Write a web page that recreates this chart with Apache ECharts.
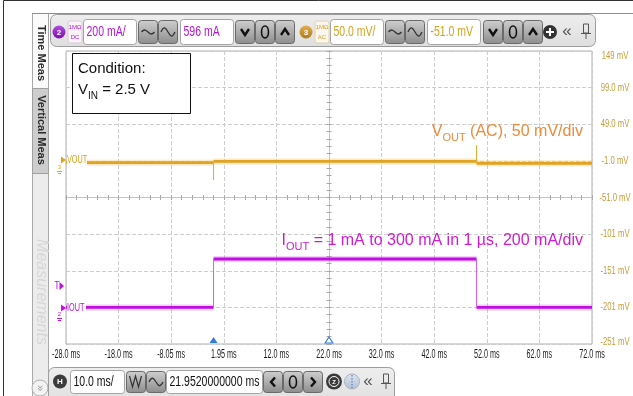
<!DOCTYPE html>
<html>
<head>
<meta charset="utf-8">
<script src="https://cdn.jsdelivr.net/npm/echarts@6/dist/echarts.min.js"></script>
<style>
  html, body { margin: 0; padding: 0; background: #fff; overflow: hidden; }
  #scope { width: 633px; height: 396px; }
</style>
</head>
<body>
<div id="scope"></div>
<script>
// Horizontal: 10 ms/div, screen centre at 21.952 ms
const timeLabels = ['-28.0 ms', '-18.0 ms', '-8.05 ms', '1.95 ms', '12.0 ms', '22.0 ms',
                    '32.0 ms', '42.0 ms', '52.0 ms', '62.0 ms', '72.0 ms'];
// Right-hand scale belongs to CH3 (50 mV/div, offset -51 mV)
const voltLabels = ['-251 mV', '-201 mV', '-151 mV', '-101 mV', '-51.0 mV', '-1.0 mV',
                    '49.0 mV', '99.0 mV', '149 mV'];
const timeRange = [-28.048, 71.952];
const timeCenter = 21.952;
const triggerTime = 0;
const voltRange = [-251, 149];
const currentRange = [-225, 1585];

// VOUT (AC coupled), mV
const voutTimes  = [-28.048, 0, 0, 0, 50, 50, 50, 71.952];
const voutValues = [-3.5, -3.5, -27, -1.7, -1.7, 20.5, -4.3, -4.3];
// IOUT load step, mA
const ioutTimes  = [-28.048, 0, 0, 50, 50, 71.952];
const ioutValues = [1, 1, 300, 300, 1, 1];

const SANS = '"Liberation Sans",Arial,sans-serif';
const C_VOUT = '#e2a321';
const C_IOUT = '#c20fe0';
const C_CH2 = '#b314d4';
const C_CH3 = '#d6a11f';

// flat runs get the thick trace, instantaneous edges a thin one
function splitTrace(times, values) {
  const flat = [], edge = [];
  for (let i = 1; i < times.length; i++) {
    const into = times[i] === times[i - 1] ? edge : flat;
    into.push([times[i - 1], values[i - 1]], [times[i], values[i]], [times[i], '-']);
  }
  return { flat, edge };
}
const vout = splitTrace(voutTimes, voutValues);
const iout = splitTrace(ioutTimes, ioutValues);

// ---------- chart ----------
const gridLine = { show: true, lineStyle: { color: '#cdcdcd', width: 1, type: [4, 2] } };
const centreTicks = (inside) => ({
  show: true, min: -5, max: 5, interval: 1, silent: true,
  axisLine: { show: true, onZero: true, onZeroAxisIndex: 0, lineStyle: { color: '#c4c4c4', width: 1 } },
  axisTick: { show: true, inside, length: 2.5, lineStyle: { color: '#a8a8a8' } },
  minorTick: { show: true, splitNumber: 5, length: 2.5, lineStyle: { color: '#a8a8a8' } },
  axisLabel: { show: false }, splitLine: { show: false }
});

const chart = echarts.init(document.getElementById('scope'), null, { renderer: 'canvas' });
chart.setOption({
  animation: false,
  backgroundColor: 'transparent',
  grid: { left: 66, top: 51, width: 526, height: 293, containLabel: false, outerBoundsMode: 'none',
          show: true, backgroundColor: '#fff', borderColor: '#b0b0b0', borderWidth: 1 },
  xAxis: [
    { type: 'value', min: -5, max: 5, interval: 1, position: 'bottom',
      axisLine: { show: false, onZero: false }, axisTick: { show: false }, splitLine: gridLine,
      axisLabel: { show: false } },
    { type: 'value', min: timeRange[0], max: timeRange[1], show: false, splitLine: { show: false } },
    Object.assign({ type: 'value', position: 'bottom' }, centreTicks(true)),
    Object.assign({ type: 'value', position: 'bottom' }, centreTicks(false))
  ],
  yAxis: [
    { type: 'value', min: -4, max: 4, interval: 1, position: 'right',
      axisLine: { show: false, onZero: false }, axisTick: { show: false }, splitLine: gridLine,
      axisLabel: { show: false } },
    { type: 'value', min: voltRange[0], max: voltRange[1], show: false, splitLine: { show: false } },
    { type: 'value', min: currentRange[0], max: currentRange[1], show: false, splitLine: { show: false } },
    Object.assign({ type: 'value', position: 'left' }, centreTicks(true), { min: -4, max: 4 }),
    Object.assign({ type: 'value', position: 'left' }, centreTicks(false), { min: -4, max: 4 })
  ],
  series: [
    { name: 'IOUT halo', type: 'line', xAxisIndex: 1, yAxisIndex: 2, data: iout.flat, showSymbol: false, symbol: 'none',
      lineStyle: { color: 'rgba(205,60,235,0.25)', width: 6 }, silent: true, z: 3 },
    { name: 'IOUT', type: 'line', xAxisIndex: 1, yAxisIndex: 2, data: iout.flat, showSymbol: false, symbol: 'none',
      lineStyle: { color: C_IOUT, width: 2.8 }, silent: true, z: 4 },
    { name: 'IOUT edge', type: 'line', xAxisIndex: 1, yAxisIndex: 2, data: iout.edge, showSymbol: false, symbol: 'none',
      lineStyle: { color: '#d25cf0', width: 1 }, silent: true, z: 4 },
    { name: 'VOUT halo', type: 'line', xAxisIndex: 1, yAxisIndex: 1, data: vout.flat, showSymbol: false, symbol: 'none',
      lineStyle: { color: 'rgba(232,175,50,0.28)', width: 6 }, silent: true, z: 3 },
    { name: 'VOUT', type: 'line', xAxisIndex: 1, yAxisIndex: 1, data: vout.flat, showSymbol: false, symbol: 'none',
      lineStyle: { color: C_VOUT, width: 2.8 }, silent: true, z: 4,
      markPoint: { silent: true, symbol: 'triangle', symbolSize: [8, 6], symbolOffset: [0, -4], label: { show: false },
        data: [
          { coord: [triggerTime, voltRange[0]], itemStyle: { color: '#2f7bd8' } },
          { coord: [timeCenter, voltRange[0]], itemStyle: { color: '#ffffff', borderColor: '#2f7bd8', borderWidth: 1 } }
        ] } },
    { name: 'VOUT edge', type: 'line', xAxisIndex: 1, yAxisIndex: 1, data: vout.edge, showSymbol: false, symbol: 'none',
      lineStyle: { color: '#e6ad38', width: 1 }, silent: true, z: 4 }
  ]
});

// ---------- instrument chrome and condensed scale labels ----------
const G = [];
const LG = (a, b) => new echarts.graphic.LinearGradient(0, 0, 0, 1, [{ offset: 0, color: a }, { offset: 1, color: b }]);
function add(el, z) { el.silent = true; el.z = z == null ? 50 : z; G.push(el); return el; }
function box(x, y, w, h, fill, stroke, r, z) {
  return add({ type: 'rect', shape: { x, y, width: w, height: h, r: r || 0 }, style: { fill, stroke: stroke || null, lineWidth: 1 } }, z);
}
function txt(x, y, text, font, fill, align, extra, z) {
  return add(Object.assign({ type: 'text', x, y, style: { text, font, fill, textAlign: align || 'left', textVerticalAlign: 'middle' } }, extra || {}), z);
}
// the instrument uses a tall condensed face; squeeze a regular face horizontally
function ntxt(x, y, text, size, fill, align, sx, z) {
  return txt(x, y, text, size + 'px ' + SANS, fill, align, { scaleX: sx || 0.8 }, z);
}
function dot(cx, cy, r, fill, stroke, z) {
  return add({ type: 'circle', shape: { cx, cy, r }, style: { fill, stroke: stroke || null, lineWidth: 1 } }, z);
}
function poly(points, stroke, lw, fill, z) {
  return add({ type: fill ? 'polygon' : 'polyline', shape: { points }, style: { stroke: stroke || null, lineWidth: lw || 1, fill: fill || null } }, z);
}
function seg(x1, y1, x2, y2, stroke, lw, dash) {
  return add({ type: 'line', shape: { x1, y1, x2, y2 }, style: { stroke, lineWidth: lw || 1, lineDash: dash || null } });
}
function wave(x, y, w, a, stroke) {
  return add({ type: 'bezierCurve', shape: { x1: x, y1: y, x2: x + w, y2: y, cpx1: x + w * 0.45, cpy1: y - a, cpx2: x + w * 0.55, cpy2: y + a },
        style: { stroke, lineWidth: 1.3, fill: null } });
}
function btn(x, y, w, h) { box(x, y, w, h, LG('#cfcfcf', '#8c8c8c'), '#6a6a6a', 3); }
function input(x, y, w, h, text, color) {
  box(x, y, w, h, '#ffffff', '#a4a4a4', 3);
  ntxt(x + 3, y + h / 2 + 0.5, text, 14, color, 'left', 0.75);
}
function pin(cx, cy) {
  box(cx - 2.5, cy - 7, 5, 9, null, '#555');
  seg(cx - 5, cy + 2.5, cx + 5, cy + 2.5, '#555', 1);
  seg(cx, cy + 2.5, cx, cy + 8, '#555', 1);
}
function vChevron(cx, cy, up) {
  const d = up ? -1 : 1;
  poly([[cx - 4, cy - 3 * d], [cx, cy + 3 * d], [cx + 4, cy - 3 * d]], '#111', 2.4);
}

// scale labels placed through the axes
timeLabels.forEach((t, i) => {
  const px = chart.convertToPixel({ xAxisIndex: 0 }, i - 5);
  ntxt(px, 355, t, 12, '#1a1a1a', 'center', 0.6);
});
voltLabels.forEach((t, i) => {
  const py = chart.convertToPixel({ yAxisIndex: 0 }, i - 4);
  ntxt(615, Math.min(Math.max(py, 56), 341.5), t, 11, '#c79a36', 'center', 0.7);
});

// frame
box(3.5, 0.5, 700, 500, null, '#333', 0, 1);
seg(32, 13.5, 633, 13.5, '#8e8e8e', 1);

// side tabs
box(32.5, 13.5, 16, 400, '#ececec', '#a9a9a9', 0, 40);
box(32.5, 13.5, 16, 75, '#fbfbfb', '#a9a9a9', 0, 41);
box(32.5, 88.5, 16, 85, '#cdcdcd', '#a0a0a0', 0, 41);
txt(41, 53, 'Time Meas', 'bold 11px ' + SANS, '#2a2a2a', 'center', { rotation: -Math.PI / 2 });
txt(41, 130, 'Vertical Meas', 'bold 11px ' + SANS, '#2a2a2a', 'center', { rotation: -Math.PI / 2 });
txt(41, 292, 'Measurements', 'italic 16px ' + SANS, '#d6d6d6', 'center', { rotation: -Math.PI / 2 });
dot(40, 388, 8, '#f3f3f3', '#b0b0b0');
txt(40, 388, '»', '11px ' + SANS, '#9a9a9a', 'center', { rotation: -Math.PI / 2 });

// top channel bar
box(50.5, 14.5, 545, 32, LG('#eeeeee', '#dedede'), '#9c9c9c', 6);
dot(59, 32, 6.5, LG('#b04ee0', '#7d0fb0'));
txt(59, 32.5, '2', 'bold 8px ' + SANS, '#fff', 'center');
box(68, 21, 14, 22, '#faf4fa', '#dcc8dc', 2);
txt(75, 27, '1MΩ', '6px ' + SANS, C_CH2, 'center');
txt(75, 37, 'DC', '6px ' + SANS, C_CH2, 'center');
input(83.5, 19.5, 53, 25, '200 mA/', C_CH2);
btn(138.5, 20.5, 19, 23); btn(158.5, 20.5, 19, 23);
wave(141.5, 32, 13, 7, '#333'); wave(161, 32, 14, 14, '#333');
input(180.5, 19.5, 53, 25, '596 mA', C_CH2);
btn(235.5, 20.5, 19, 23); btn(255.5, 20.5, 19, 23); btn(275.5, 20.5, 19, 23);
vChevron(245, 32, false);
add({ type: 'ellipse', shape: { cx: 265, cy: 32, rx: 3.5, ry: 6 }, style: { stroke: '#111', lineWidth: 1.6, fill: null } });
vChevron(285, 32, true);
dot(306, 32, 6.5, LG('#e2b04e', '#b07a18'));
txt(306, 32.5, '3', 'bold 8px ' + SANS, '#fff', 'center');
box(315, 21, 14, 22, '#fbf7ee', '#e0d2b0', 2);
txt(322, 27, '1MΩ', '6px ' + SANS, C_CH3, 'center');
txt(322, 37, 'AC', '6px ' + SANS, C_CH3, 'center');
input(330.5, 19.5, 53, 25, '50.0 mV/', C_CH3);
btn(385.5, 20.5, 19, 23); btn(405.5, 20.5, 19, 23);
wave(388.5, 32, 13, 7, '#333'); wave(408, 32, 14, 14, '#333');
input(427.5, 19.5, 53, 25, '-51.0 mV', C_CH3);
btn(483.5, 20.5, 19, 23); btn(503.5, 20.5, 19, 23); btn(523.5, 20.5, 19, 23);
vChevron(493, 32, false);
add({ type: 'ellipse', shape: { cx: 513, cy: 32, rx: 3.5, ry: 6 }, style: { stroke: '#111', lineWidth: 1.6, fill: null } });
vChevron(533, 32, true);
dot(550, 32, 7, '#333');
seg(546, 32, 554, 32, '#fff', 2); seg(550, 28, 550, 36, '#fff', 2);
txt(567, 31, '«', '17px ' + SANS, '#555', 'center');
pin(586, 31);

// bottom timebase bar
box(48.5, 367.5, 346, 40, LG('#eeeeee', '#dedede'), '#9c9c9c', 6);
dot(60, 381.5, 7, '#3c3c3c');
txt(60, 382, 'H', 'bold 8px ' + SANS, '#fff', 'center');
input(70.5, 370.5, 54, 23, '10.0 ms/', '#111');
btn(126.5, 371.5, 19, 21); btn(146.5, 371.5, 19, 21);
poly([[129.5, 376], [132.5, 387], [135.5, 376], [138.5, 387], [141.5, 376]], '#333', 1.2);
wave(149, 382, 14, 13, '#333');
input(166.5, 370.5, 96, 23, '21.9520000000 ms', '#111');
btn(263.5, 371.5, 19, 21); btn(283.5, 371.5, 19, 21); btn(303.5, 371.5, 19, 21);
poly([[275, 377.5], [271, 382], [275, 386.5]], '#111', 2.4);
add({ type: 'ellipse', shape: { cx: 293, cy: 382, rx: 3.5, ry: 6 }, style: { stroke: '#111', lineWidth: 1.6, fill: null } });
poly([[311, 377.5], [315, 382], [311, 386.5]], '#111', 2.4);
dot(334, 381.5, 8, '#3a3a3a');
dot(334, 381.5, 5, null, '#fff');
txt(334, 382, 'Z', 'bold 6px ' + SANS, '#fff', 'center');
dot(352, 381.5, 7.5, LG('#dfe5ee', '#b3bfd3'), '#a9b2c2');
seg(352, 375, 352, 388, '#3a6fd0', 1, [1.5, 1.5]);
txt(368, 381, '«', '17px ' + SANS, '#555', 'center');
pin(386, 381);

// condition note
box(72.5, 53.5, 118, 60, '#ffffff', '#111', 0, 60);
txt(78, 69, 'Condition:', '15px ' + SANS, '#111', 'left', null, 61);
add({ type: 'text', x: 78, y: 90, style: {
  text: '{m|V}{s|IN}{m| = 2.5 V}', textVerticalAlign: 'middle',
  rich: { m: { font: '15px ' + SANS, fill: '#111', lineHeight: 22 },
          s: { font: '10px ' + SANS, fill: '#111', lineHeight: 22, verticalAlign: 'bottom' } } } }, 61);

// trace annotations
add({ type: 'text', x: 583, y: 132, style: {
  text: '{m|V}{s|OUT}{m| (AC), 50 mV/div}', textAlign: 'right', textVerticalAlign: 'middle',
  rich: { m: { font: '16px ' + SANS, fill: '#ee8a3a', lineHeight: 22 },
          s: { font: '11px ' + SANS, fill: '#ee8a3a', lineHeight: 22, verticalAlign: 'bottom' } } } }, 60);
add({ type: 'text', x: 583, y: 241, style: {
  text: '{m|I}{s|OUT}{m| = 1 mA to 300 mA in 1 µs, 200 mA/div}', textAlign: 'right', textVerticalAlign: 'middle',
  rich: { m: { font: '16px ' + SANS, fill: '#d11ad2', lineHeight: 22 },
          s: { font: '11px ' + SANS, fill: '#d11ad2', lineHeight: 22, verticalAlign: 'bottom' } } } }, 60);

// channel reference markers and trace names
poly([[61, 156.5], [66, 160], [61, 163.5]], null, 1, C_VOUT);
txt(59.5, 167, '3', '6px ' + SANS, C_VOUT, 'center');
seg(57, 171.5, 62, 171.5, C_VOUT, 1); seg(58, 173.5, 61, 173.5, C_VOUT, 1);
box(67, 154, 20, 12, '#fff', null, 0, 55);
ntxt(67, 160, 'VOUT', 11, '#d99c17', 'left', 0.66, 56);
poly([[61, 304.5], [66, 308], [61, 311.5]], null, 1, C_IOUT);
txt(59.5, 314, '2', '6px ' + SANS, C_IOUT, 'center');
seg(57, 318.5, 62, 318.5, C_IOUT, 1); seg(58, 320.5, 61, 320.5, C_IOUT, 1);
box(67, 302, 19, 12, '#fff', null, 0, 55);
ntxt(67, 308, 'IOUT', 11, C_CH2, 'left', 0.66, 56);
ntxt(57, 286, 'T', 11, C_CH2, 'center', 0.8);
poly([[59.5, 282], [64, 286], [59.5, 290]], null, 1, C_IOUT);

chart.setOption({ graphic: { elements: G } });
</script>
</body>
</html>
